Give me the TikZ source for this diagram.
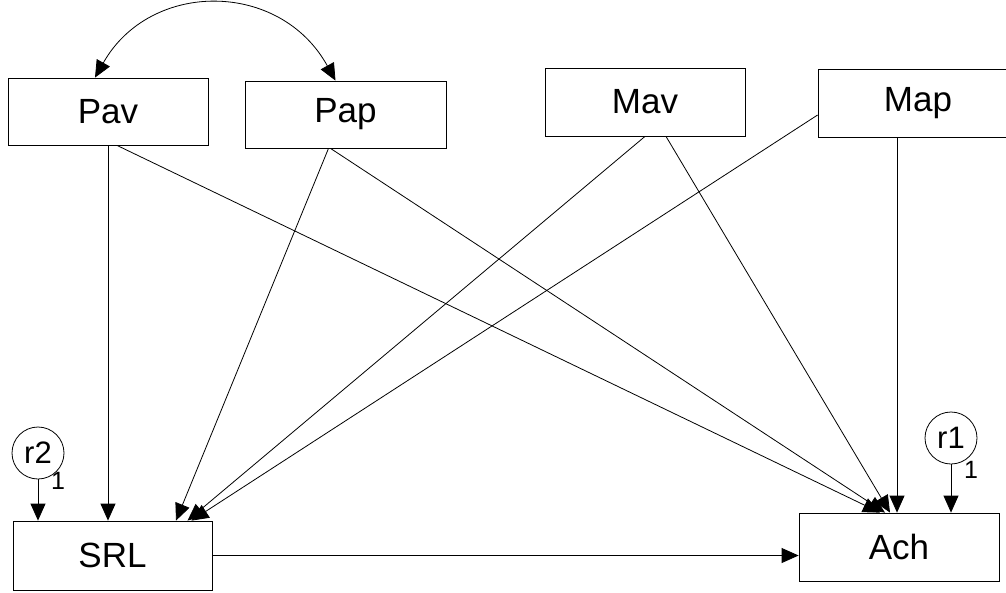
\documentclass[tikz,border=0pt]{standalone}
\usepackage{fontspec}
\setmainfont{Liberation Sans}
\usetikzlibrary{arrows.meta}

\begin{document}
\begin{tikzpicture}[x=1pt, y=-1pt, line width=0.8pt,
		box/.style={draw, rectangle, minimum width=200pt, minimum height=67pt, font=\fontsize{35}{40}\selectfont},
		err/.style={draw, circle, minimum size=52pt, inner sep=0pt, font=\fontsize{31}{34}\selectfont},
		lab/.style={font=\fontsize{25}{28}\selectfont, inner sep=0pt},
		>={Triangle[length=17pt, width=15pt]}]
		\clip (0,0) rectangle (1006,592);

		\node[box] (Pav) at (108,111.5) {Pav};
		\node[box, minimum width=201pt] (Pap) at (345.5,114.5) {Pap};
		\node[box, minimum height=68pt] (Mav) at (645,102) {Mav};
		\node[box, minimum height=68pt] (Map) at (918,103) {Map};
		\node[box, minimum width=199pt, minimum height=69pt] (SRL) at (112.5,555.5) {SRL};
		\node[box, minimum height=68pt] (Ach) at (899,547) {Ach};
		\node[err] (r2) at (38,453) {r2};
		\node[err] (r1) at (951,438) {r1};
		\node[lab] (one2) at (58,481) {1};
		\node[lab] (one1) at (971,470) {1};

		\draw[<->] ([xshift=-13pt]Pav.north) .. controls (150,-20) and (280,-20) .. ([xshift=-10pt]Pap.north);

		\draw[->] (Pav.south) -- (Pav.south |- SRL.north);
		\draw[->] ([xshift=9pt]Pav.south) -- ([xshift=-19pt]Ach.north);
		\draw[->] ([xshift=-17pt]Pap.south) -- ([xshift=63.5pt]SRL.north);
		\draw[->] ([xshift=-15pt]Pap.south) -- ([xshift=-14pt]Ach.north);
		\draw[->] (Mav.south) -- ([xshift=75pt]SRL.north);
		\draw[->] ([xshift=21pt]Mav.south) -- ([xshift=-9pt]Ach.north);
		\draw[->] ([yshift=-12pt]Map.west) -- ([xshift=79pt]SRL.north);
		\draw[->] ([xshift=-21pt]Map.south) -- ([xshift=-21pt]Map.south |- Ach.north);
		\draw[->] (r2.south) -- (r2.south |- SRL.north);
		\draw[->] (r1.south) -- (r1.south |- Ach.north);
		\draw[->] (SRL.east) -- (SRL.east -| Ach.west);

	\end{tikzpicture}
\end{document}
